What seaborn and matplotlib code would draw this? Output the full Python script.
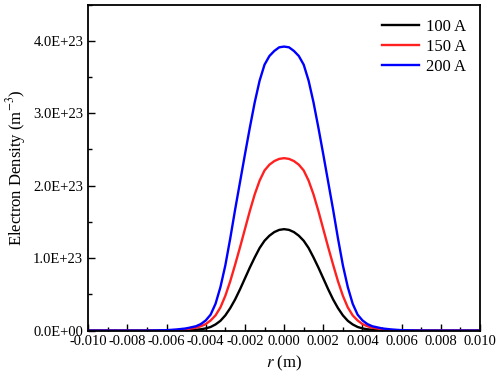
import numpy as np
import pandas as pd
import matplotlib
matplotlib.use("Agg")
import matplotlib.pyplot as plt
import seaborn as sns
from matplotlib.ticker import MultipleLocator, FuncFormatter

# radial position (m)
r = [-0.010, -0.009, -0.008, -0.007, -0.0065, -0.006, -0.0055, -0.005, -0.0045,
     -0.00425, -0.004, -0.00375, -0.0035, -0.00325, -0.003, -0.00275, -0.0025, -0.00225,
     -0.002, -0.00175, -0.0015, -0.00125, -0.001, -0.00075, -0.0005, -0.00025,
     0.0,
     0.00025, 0.0005, 0.00075, 0.001, 0.00125, 0.0015, 0.00175, 0.002,
     0.00225, 0.0025, 0.00275, 0.003, 0.00325, 0.0035, 0.00375, 0.004, 0.00425,
     0.0045, 0.005, 0.0055, 0.006, 0.0065, 0.007, 0.008, 0.009, 0.010]

# electron density, units of 1E+23 m^-3
ne_100 = [0, 0, 0, 0, 0.0005, 0.001, 0.002, 0.005, 0.012,
          0.018, 0.03, 0.05, 0.085, 0.135, 0.21, 0.31, 0.43, 0.57,
          0.72, 0.87, 1.01, 1.14, 1.24, 1.31, 1.36, 1.39,
          1.40,
          1.39, 1.36, 1.31, 1.24, 1.14, 1.01, 0.87, 0.72,
          0.57, 0.43, 0.31, 0.21, 0.135, 0.085, 0.05, 0.03, 0.018,
          0.012, 0.005, 0.002, 0.001, 0.0005, 0, 0, 0, 0]
ne_150 = [0, 0, 0, 0.0005, 0.001, 0.003, 0.008, 0.018, 0.04,
          0.06, 0.09, 0.14, 0.21, 0.32, 0.48, 0.68, 0.91, 1.15,
          1.40, 1.65, 1.88, 2.07, 2.21, 2.29, 2.34, 2.37,
          2.38,
          2.37, 2.34, 2.29, 2.21, 2.07, 1.88, 1.65, 1.40,
          1.15, 0.91, 0.68, 0.48, 0.32, 0.21, 0.14, 0.09, 0.06,
          0.04, 0.018, 0.008, 0.003, 0.001, 0.0005, 0, 0, 0]
ne_200 = [0, 0, 0, 0.001, 0.003, 0.006, 0.015, 0.03, 0.06,
          0.09, 0.14, 0.22, 0.37, 0.60, 0.90, 1.27, 1.67, 2.05,
          2.43, 2.80, 3.15, 3.45, 3.67, 3.79, 3.86, 3.91,
          3.92,
          3.91, 3.86, 3.79, 3.67, 3.45, 3.15, 2.80, 2.43,
          2.05, 1.67, 1.27, 0.90, 0.60, 0.37, 0.22, 0.14, 0.09,
          0.06, 0.03, 0.015, 0.006, 0.003, 0.001, 0, 0, 0]

labels = ["100 A", "150 A", "200 A"]
colors = ["#000000", "#FF2020", "#0000FF"]

df = pd.concat([
    pd.DataFrame({"r": r, "ne": np.array(v) * 1e23, "current": lab})
    for v, lab in zip([ne_100, ne_150, ne_200], labels)
])

plt.rcParams["font.family"] = ["Liberation Serif", "DejaVu Serif"]
plt.rcParams["mathtext.fontset"] = "stix"

fig = plt.figure(figsize=(4.98, 3.80), dpi=100)
ax = fig.add_axes([0.177, 0.130, 0.787, 0.858])

sns.lineplot(data=df, x="r", y="ne", hue="current", palette=colors,
             linewidth=1.7, ax=ax, sort=False)

ax.set_xlim(-0.010, 0.010)
ax.set_ylim(0, 4.5e23)
ax.xaxis.set_major_locator(MultipleLocator(0.002))
ax.xaxis.set_minor_locator(MultipleLocator(0.001))
ax.yaxis.set_major_locator(MultipleLocator(1e23))
ax.yaxis.set_minor_locator(MultipleLocator(0.5e23))
ax.xaxis.set_major_formatter(FuncFormatter(lambda v, p: f"{v:.3f}"))
ax.yaxis.set_major_formatter(FuncFormatter(lambda v, p: f"{v:.1E}"))
ax.tick_params(which="both", direction="in", labelsize=10.5, width=1, color="black")
ax.tick_params(which="major", length=5)
ax.tick_params(which="minor", length=3)
for side in ["left", "right", "top", "bottom"]:
    ax.spines[side].set_linewidth(1.3)
    ax.spines[side].set_color("black")

ax.set_xlabel("$r$ (m)", fontsize=12)
ax.set_ylabel("Electron Density (m$^{-3}$)", fontsize=12)

ax.legend(loc="upper right", frameon=False, fontsize=12, handlelength=2.2,
          handletextpad=0.4, labelspacing=0.25, borderaxespad=0.45)

fig.savefig("out.png", dpi=100)
